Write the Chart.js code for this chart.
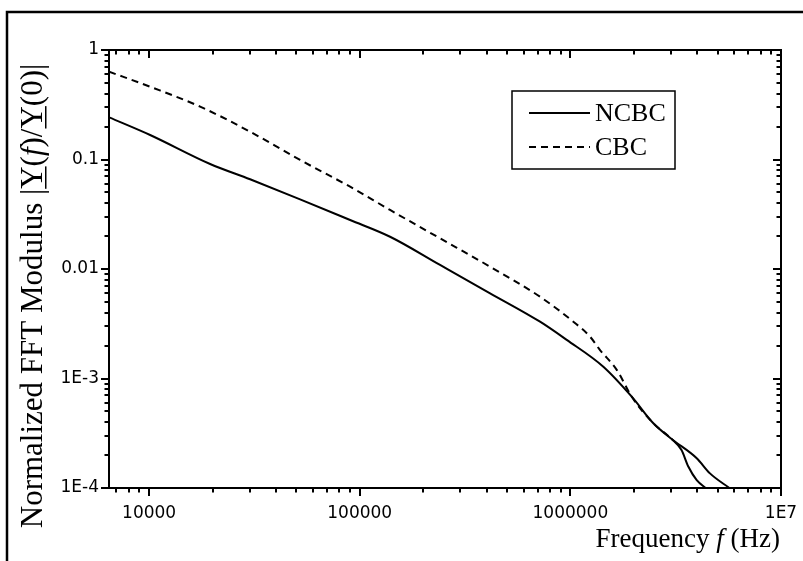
<!DOCTYPE html>
<html>
<head>
<meta charset="utf-8">
<title>Normalized FFT Modulus</title>
<script src="https://cdn.jsdelivr.net/npm/chart.js@4.4.1/dist/chart.umd.min.js"></script>
<style>
  html, body { margin: 0; padding: 0; background: #fff; }
  #wrap { position: relative; width: 803px; height: 561px; }
</style>
</head>
<body>
<div id="wrap"><canvas id="fft-chart" width="803" height="561"></canvas></div>
<script>
// values
const freqNCBC = [6457, 10110, 19480, 30160, 52100, 90000, 139300, 240600, 415700, 717800,
  961000, 1434000, 1956000, 2477000, 3027000, 3980000, 4600000, 5730000];
const modNCBC = [0.2428, 0.1675, 0.0910, 0.0660, 0.0433, 0.0280, 0.0197, 0.01088, 0.0060, 0.0033,
  0.00225, 0.00128, 6.82e-4, 3.9e-4, 2.8e-4, 1.87e-4, 1.36e-4, 9.9e-5];

const freqCBC = [6457, 10110, 17470, 30160, 52100, 90000, 139300, 240600, 415700, 717800,
  1033000, 1240000, 1383000, 1660000, 1956000, 2477000, 3027000, 3370000, 3630000, 3980000, 4420000];
const modCBC = [0.634, 0.462, 0.304, 0.1794, 0.0990, 0.0564, 0.0346, 0.01906, 0.0105, 0.00558,
  0.0033, 0.00241, 0.00182, 0.0012, 6.82e-4, 3.9e-4, 2.8e-4, 2.22e-4, 1.57e-4, 1.18e-4, 9.9e-5];

const xTickValues = [1e4, 1e5, 1e6, 1e7];
const xTickLabels = ['10000', '100000', '1000000', '1E7'];
const yTickValues = [1, 0.1, 0.01, 1e-3, 1e-4];
const yTickLabels = ['1', '0.1', '0.01', '1E-3', '1E-4'];

const X_MIN = 6450;
const X_MAX = 1e7;
const Y_MIN = 1e-4;
const Y_MAX = 1;

const SERIF = '"Liberation Serif", "Times New Roman", serif';
const SANS = '"DejaVu Sans", sans-serif';

function toPoints(xs, ys) {
  return xs.map((x, i) => ({ x, y: ys[i] }));
}

// all m * 10^k values inside [lo, hi]
function logMarks(lo, hi) {
  const out = [];
  for (let k = Math.floor(Math.log10(lo)); k <= Math.ceil(Math.log10(hi)); k++) {
    for (let m = 1; m <= 9; m++) {
      const v = m * Math.pow(10, k);
      if (v >= lo * 0.9999 && v <= hi * 1.0001) out.push({ v, major: m === 1 });
    }
  }
  return out;
}

// draw a run of text pieces (italic / underlined) starting at x, baseline y
function drawRich(ctx, parts, x, y, size) {
  let cx = x;
  for (const p of parts) {
    ctx.font = (p.italic ? 'italic ' : '') + size + 'px ' + SERIF;
    ctx.fillText(p.text, cx, y);
    const w = ctx.measureText(p.text).width;
    if (p.underline) ctx.fillRect(cx, y + 3, w, 1.5);
    cx += w;
  }
  return cx - x;
}

function richWidth(ctx, parts, size) {
  let w = 0;
  for (const p of parts) {
    ctx.font = (p.italic ? 'italic ' : '') + size + 'px ' + SERIF;
    w += ctx.measureText(p.text).width;
  }
  return w;
}

const yTitle = [
  { text: 'Normalized FFT Modulus |' },
  { text: 'Y', underline: true },
  { text: '(' },
  { text: 'f', italic: true },
  { text: ')/' },
  { text: 'Y', underline: true },
  { text: '(0)|' },
];
const xTitle = [
  { text: 'Frequency ' },
  { text: 'f', italic: true },
  { text: ' (Hz)' },
];

const frameAndMarks = {
  id: 'frameAndMarks',
  beforeDraw(chart) {
    const { ctx, width, height } = chart;
    ctx.save();
    ctx.fillStyle = '#fff';
    ctx.fillRect(0, 0, width, height);
    // page frame, top and left edges only
    ctx.strokeStyle = '#000';
    ctx.lineWidth = 2.5;
    ctx.beginPath();
    ctx.moveTo(7, height);
    ctx.lineTo(7, 12);
    ctx.lineTo(width, 12);
    ctx.stroke();
    ctx.restore();
  },
  afterDraw(chart) {
    const { ctx, chartArea: a, scales } = chart;
    const sx = scales.x;
    const sy = scales.y;
    ctx.save();
    ctx.strokeStyle = '#000';
    ctx.fillStyle = '#000';

    ctx.lineWidth = 2;
    ctx.strokeRect(a.left, a.top, a.right - a.left, a.bottom - a.top);

    ctx.beginPath();
    for (const t of logMarks(X_MIN, X_MAX)) {
      const px = Math.round(sx.getPixelForValue(t.v));
      const len = t.major ? 8 : 4.5;
      ctx.moveTo(px, a.bottom); ctx.lineTo(px, a.bottom + len);
      ctx.moveTo(px, a.top); ctx.lineTo(px, a.top + len);
    }
    for (const t of logMarks(Y_MIN, Y_MAX)) {
      const py = Math.round(sy.getPixelForValue(t.v));
      const len = t.major ? 8 : 4.5;
      ctx.moveTo(a.left, py); ctx.lineTo(a.left - len, py);
      ctx.moveTo(a.right, py); ctx.lineTo(a.right - len, py);
    }
    ctx.stroke();

    // legend box
    const box = { left: 512, top: 91, right: 675, bottom: 169 };
    ctx.lineWidth = 1.5;
    ctx.strokeRect(box.left, box.top, box.right - box.left, box.bottom - box.top);
    const rows = [113, 147];
    ctx.textBaseline = 'middle';
    chart.data.datasets.forEach((ds, i) => {
      ctx.lineWidth = 2;
      ctx.setLineDash(ds.borderDash || []);
      ctx.beginPath();
      ctx.moveTo(529, rows[i]);
      ctx.lineTo(590, rows[i]);
      ctx.stroke();
      ctx.setLineDash([]);
      ctx.font = '26px ' + SERIF;
      ctx.fillText(ds.label, 595, rows[i] + 1);
    });

    // axis titles
    ctx.textBaseline = 'alphabetic';
    const ySize = 31;
    const yLen = richWidth(ctx, yTitle, ySize);
    ctx.save();
    ctx.translate(42, 296 + yLen / 2);
    ctx.rotate(-Math.PI / 2);
    drawRich(ctx, yTitle, 0, 0, ySize);
    ctx.restore();

    const xSize = 27;
    const xLen = richWidth(ctx, xTitle, xSize);
    drawRich(ctx, xTitle, 780 - xLen, 547, xSize);

    ctx.restore();
  },
};

new Chart(document.getElementById('fft-chart'), {
  type: 'line',
  data: {
    datasets: [
      {
        label: 'NCBC',
        data: toPoints(freqNCBC, modNCBC),
        borderColor: '#000',
        borderWidth: 2,
        pointRadius: 0,
        cubicInterpolationMode: 'monotone',
      },
      {
        label: 'CBC',
        data: toPoints(freqCBC, modCBC),
        borderColor: '#000',
        borderWidth: 2,
        borderDash: [7, 5],
        pointRadius: 0,
        cubicInterpolationMode: 'monotone',
        segment: {
          borderDash: (ctx) => (ctx.p0.parsed.x >= 2.5e6 ? [] : undefined),
        },
      },
    ],
  },
  options: {
    responsive: false,
    animation: false,
    events: [],
    layout: { padding: { left: 0, top: 50, right: 22, bottom: 0 } },
    plugins: {
      legend: { display: false },
      tooltip: { enabled: false },
    },
    scales: {
      x: {
        type: 'logarithmic',
        min: X_MIN,
        max: X_MAX,
        grid: { display: false, drawTicks: false },
        border: { display: false },
        afterBuildTicks: (scale) => {
          scale.ticks = xTickValues.map((v) => ({ value: v }));
        },
        afterFit: (scale) => {
          scale.height = 73;
          scale.paddingLeft = 0;
          scale.paddingRight = 0;
        },
        ticks: {
          autoSkip: false,
          maxRotation: 0,
          padding: 15,
          color: '#000',
          font: { family: SANS, size: 17 },
          callback: (v, i) => xTickLabels[i],
        },
      },
      y: {
        type: 'logarithmic',
        min: Y_MIN,
        max: Y_MAX,
        grid: { display: false, drawTicks: false },
        border: { display: false },
        afterBuildTicks: (scale) => {
          scale.ticks = yTickValues.map((v) => ({ value: v }));
        },
        afterFit: (scale) => {
          scale.width = 109;
          scale.paddingTop = 0;
          scale.paddingBottom = 0;
        },
        ticks: {
          autoSkip: false,
          padding: 10,
          color: '#000',
          font: { family: SANS, size: 17 },
          callback: (v, i) => yTickLabels[i],
        },
      },
    },
  },
  plugins: [frameAndMarks],
});
</script>
</body>
</html>
